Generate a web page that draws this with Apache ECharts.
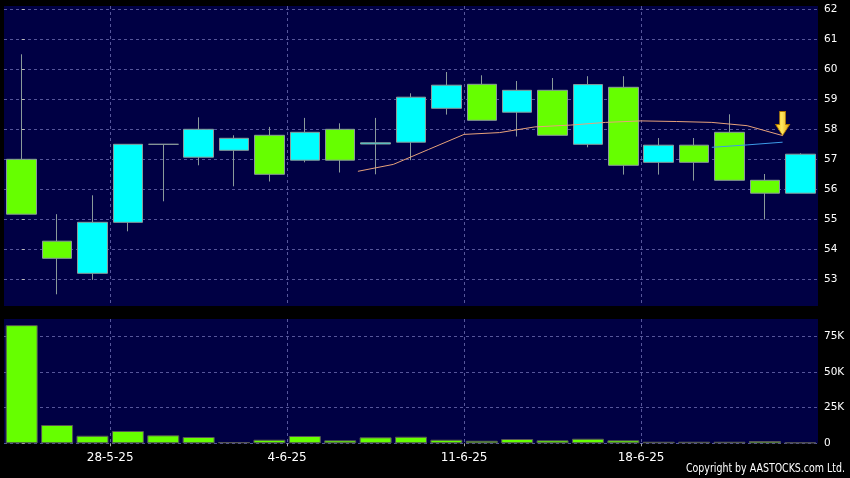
<!DOCTYPE html>
<html>
<head>
<meta charset="utf-8">
<script src="https://cdn.jsdelivr.net/npm/echarts@6/dist/echarts.min.js"></script>
<style>
html,body{margin:0;padding:0;background:#000;}
#c{width:850px;height:478px;}
</style>
</head>
<body>
<div id="c"></div>
<script>
const dates = ['23-5-25','26-5-25','27-5-25','28-5-25','29-5-25','30-5-25','2-6-25','3-6-25','4-6-25','5-6-25','6-6-25','9-6-25','10-6-25','11-6-25','12-6-25','13-6-25','16-6-25','17-6-25','18-6-25','19-6-25','20-6-25','23-6-25','24-6-25'];
const openV  = [57.0,54.27,53.2,54.9,57.5,57.07,57.3,57.8,56.97,58.0,57.51,57.57,58.7,59.5,58.57,59.3,57.5,59.4,56.9,57.47,57.9,56.3,55.87];
const closeV = [55.17,53.7,54.9,57.5,57.5,58.0,57.7,56.5,57.9,56.97,57.55,59.07,59.47,58.3,59.3,57.8,59.49,56.8,57.47,56.9,56.3,55.87,57.17];
const lowV   = [55.17,52.5,52.98,54.6,55.6,56.8,56.1,56.26,56.9,56.56,56.5,56.97,58.49,58.3,57.76,57.8,57.4,56.49,56.49,56.29,56.3,55.0,55.87];
const highV  = [60.5,55.17,55.8,57.5,57.5,58.4,57.8,58.08,58.38,58.2,58.38,59.2,59.91,59.8,59.61,59.71,59.77,59.77,57.71,57.71,58.5,56.51,57.2];
const volume = [82700,12800,5300,8600,5600,4400,900,2500,5100,2100,4200,4600,2500,1800,3000,2100,3200,2100,1100,1100,1100,1600,700];
const maOrange = [null,null,null,null,null,null,null,null,null,56.6,56.83,57.33,57.83,57.89,58.08,58.14,58.23,58.28,58.26,58.23,58.12,57.79,null];
const maBlue   = [null,null,null,null,null,null,null,null,null,null,null,null,null,null,null,null,null,null,null,57.4,57.48,57.57,null];
const priceTicks = [53,54,55,56,57,58,59,60,61,62];
const volTicks = [0,25000,50000,75000];
const dateTickLabels = ['28-5-25','4-6-25','11-6-25','18-6-25'];

const BG = '#000044';
const GRIDC = '#56569a';
const TXT = '#ffffff';
const FONT = 'DejaVu Sans';

const candleData = openV.map((o,i)=>[o, closeV[i], lowV[i], highV[i]]);
const toLine = arr => arr.map((v,i)=> v==null ? null : [i+0.5, v]).filter(p=>p);
const orangePts = toLine(maOrange);
const bluePts = toLine(maBlue);
const boundaryVals = dateTickLabels.map(d => dates.indexOf(d) - 0.5);
const labelMap = {};
boundaryVals.forEach((v,i)=>{ labelMap[v] = dateTickLabels[i]; });

const chart = echarts.init(document.getElementById('c'), null, {renderer:'canvas'});
const dashed = {show:true, lineStyle:{color:GRIDC, type:[3,3], width:1}};

chart.setOption({
  backgroundColor:'#000000',
  animation:false,
  grid:[
    {left:4, top:6, width:814, height:300, show:true, backgroundColor:BG, borderWidth:0},
    {left:4, top:319, width:814, height:124.3, show:true, backgroundColor:BG, borderWidth:0}
  ],
  xAxis:[
    {type:'category', gridIndex:0, data:dates, boundaryGap:true, axisLine:{show:false}, axisTick:{show:false}, axisLabel:{show:false}, splitLine:{show:false}},
    {type:'category', gridIndex:1, data:dates, boundaryGap:true, axisLine:{show:false}, axisTick:{show:false}, axisLabel:{show:false}, splitLine:{show:false}},
    {type:'value', gridIndex:0, min:-0.5, max:22.5, axisLine:{show:false},
      axisTick:{show:false, customValues:boundaryVals}, axisLabel:{show:false, customValues:boundaryVals}, splitLine:dashed},
    {type:'value', gridIndex:1, min:-0.5, max:22.5, position:'bottom', axisLine:{show:false},
      axisTick:{show:true, length:3, customValues:boundaryVals, lineStyle:{color:'#aaaaaa'}},
      axisLabel:{show:true, customValues:boundaryVals, margin:9, color:TXT, fontFamily:FONT, fontSize:12,
        formatter: v => labelMap[v] || ''},
      splitLine:dashed}
  ],
  yAxis:[
    {type:'value', gridIndex:0, position:'right', min:52.11, max:62.11,
      axisLine:{show:false},
      axisTick:{show:true, length:3, customValues:priceTicks, lineStyle:{color:'#bbbbbb'}},
      axisLabel:{customValues:priceTicks, margin:6, color:TXT, fontFamily:FONT, fontSize:10.5},
      splitLine:dashed},
    {type:'value', gridIndex:1, position:'right', min:0, max:87000,
      axisLine:{show:false},
      axisTick:{show:true, length:3, customValues:volTicks, lineStyle:{color:'#bbbbbb'}},
      axisLabel:{customValues:volTicks, margin:6, color:TXT, fontFamily:FONT, fontSize:10.5,
        formatter: v => v===0 ? '0' : (v/1000)+'K'},
      splitLine:dashed}
  ],
  series:[
    {type:'candlestick', xAxisIndex:0, yAxisIndex:0, data:candleData, barWidth:30,
      itemStyle:{color:'#00ffff', color0:'#66ff00', borderColor:'#8a9a9a', borderColor0:'#8a9a9a', borderWidth:1}},
    {type:'line', xAxisIndex:2, yAxisIndex:0, data:orangePts, showSymbol:false, symbol:'none',
      lineStyle:{color:'#e8a27a', width:1}, z:5,
      markPoint:{symbol:'path://M4,0L10,0L10,13L14,13L7,24L0,13L4,13Z', symbolSize:[14,24], symbolOffset:[0,-12],
        symbolKeepAspect:false,
        label:{show:false},
        itemStyle:{color:new echarts.graphic.LinearGradient(0,0,1,0,[{offset:0,color:'#f5b800'},{offset:0.45,color:'#ffe860'},{offset:1,color:'#e09a00'}]), borderColor:'#b07800', borderWidth:0.8},
        data:[{coord:orangePts[orangePts.length-1]}]}},
    {type:'line', xAxisIndex:2, yAxisIndex:0, data:bluePts, showSymbol:false, symbol:'none',
      lineStyle:{color:'#3d9be8', width:1}, z:5},
    {type:'bar', xAxisIndex:1, yAxisIndex:1, data:volume, barWidth:32,
      itemStyle:{color:'#66ff00', borderColor:'#555555', borderWidth:1}}
  ],
  graphic:[
    {type:'text', right:5, top:463, style:{text:'Copyright by AASTOCKS.com Ltd.', fill:TXT, font:'10.5px "DejaVu Sans Condensed", "DejaVu Sans"'}, scaleY:1.15}
  ]
});
</script>
</body>
</html>
